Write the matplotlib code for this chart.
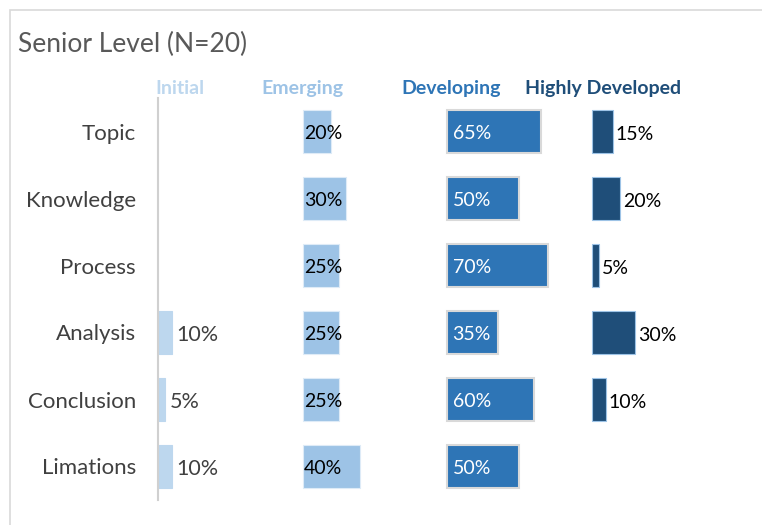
import numpy as np
import matplotlib.pyplot as plt
from matplotlib.patches import Rectangle

plt.rcParams['font.family'] = ['Lato', 'DejaVu Sans']

categories = ['Topic', 'Knowledge', 'Process', 'Analysis', 'Conclusion', 'Limations']
levels = ['Initial', 'Emerging', 'Developing', 'Highly Developed']
initial = [0, 0, 0, 10, 5, 10]
emerging = [20, 30, 25, 25, 25, 40]
developing = [65, 50, 70, 35, 60, 50]
highly = [15, 20, 5, 30, 10, 0]

colors = ['#BDD7EE', '#9DC3E6', '#2E75B6', '#1F4E79']
edges = ['#BDD7EE', '#DEEBF7', '#D9D9D9', '#9DC3E6']

fig = plt.figure(figsize=(7.62, 5.25), dpi=100)
fig.patches.append(Rectangle((10 / 762, -0.1), 1.2, 1 - 10 / 525 + 0.1,
                             transform=fig.transFigure, fill=False,
                             edgecolor='#D9D9D9', linewidth=1.2))
ax = fig.add_axes([158 / 762, 25 / 525, (736 - 158) / 762, (500 - 98) / 525])

y = np.arange(len(categories))
h = 0.64
series = [initial, emerging, developing, highly]
for i, vals in enumerate(series):
    base = 100 * i
    vals = np.array(vals)
    lw = np.where(vals > 0, 1.5 if i == 2 else 0.8, 0)
    ax.barh(y, vals, h, left=base, color=colors[i], edgecolor=edges[i], linewidth=lw)
    for yy, v in zip(y, vals):
        if v == 0:
            continue
        if i == 0:
            ax.annotate(f'{v}%', (base + v, yy), xytext=(3, -1.5), textcoords='offset points',
                        va='center', ha='left', fontsize=15.5, color='#404040')
        elif i == 1:
            ax.annotate(f'{v}%', (base, yy), xytext=(1, -1.5), textcoords='offset points',
                        va='center', ha='left', fontsize=14, color='black')
        elif i == 2:
            ax.annotate(f'{v}%', (base, yy), xytext=(4, -1.5), textcoords='offset points',
                        va='center', ha='left', fontsize=14, color='white')
        else:
            ax.annotate(f'{v}%', (base + v, yy), xytext=(2, -2), textcoords='offset points',
                        va='center', ha='left', fontsize=14, color='black')

ax.set_xlim(0, 400)
ax.set_ylim(len(categories) - 0.5, -0.5)
ax.set_yticks(y)
ax.set_yticklabels(categories, fontsize=16, color='#404040')
ax.tick_params(axis='y', length=0, pad=16)
ax.set_xticks([])
for s in ['top', 'right', 'bottom']:
    ax.spines[s].set_visible(False)
ax.spines['left'].set_color('#D0D0D0')
ax.spines['left'].set_linewidth(1.5)

header_x = [15, 100, 203, 308]
for i, lab in enumerate(levels):
    ax.text(header_x[i], -0.5 - 10 / 67, lab, ha='center', va='center',
            fontsize=14, fontweight='bold', color=colors[i])

fig.text(18 / 762, 1 - 44 / 525, 'Senior Level (N=20)', fontsize=19,
         color='#595959', va='center', ha='left')

fig.savefig('out.png', dpi=100)
